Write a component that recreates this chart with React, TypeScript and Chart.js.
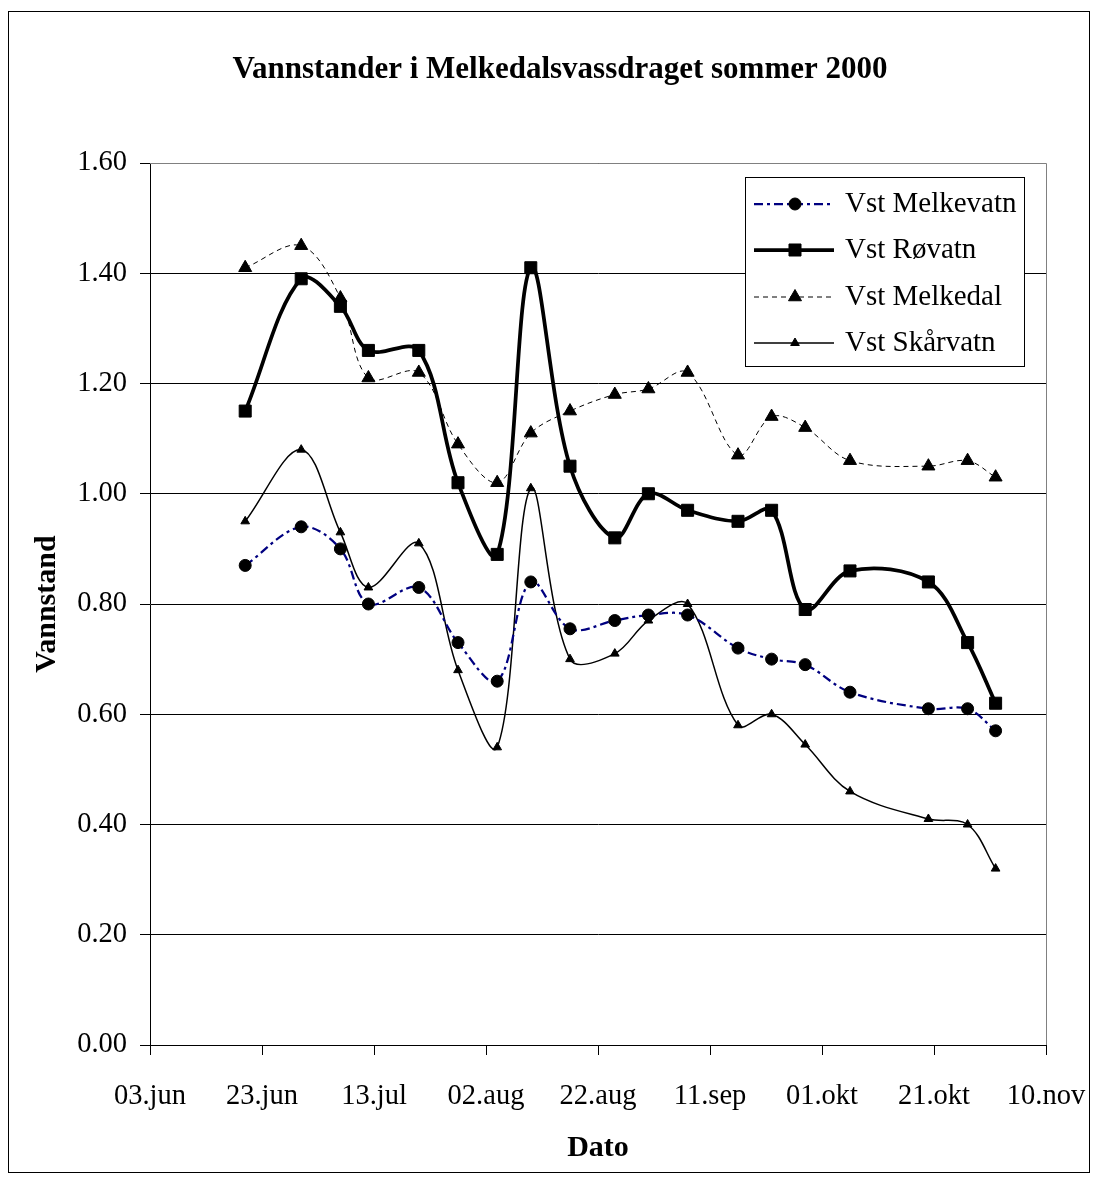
import React, { useEffect, useRef } from "react";
import { Chart, registerables } from "chart.js";

Chart.register(...registerables);

const TITLE = "Vannstander i Melkedalsvassdraget sommer 2000";
const X_TITLE = "Dato";
const Y_TITLE = "Vannstand";
const START_DATE = "2000-06-03";

const xTickLabels = ["03.jun", "23.jun", "13.jul", "02.aug", "22.aug", "11.sep", "01.okt", "21.okt", "10.nov"];

const dates = [
  "2000-06-20", "2000-06-30", "2000-07-07", "2000-07-12", "2000-07-21",
  "2000-07-28", "2000-08-04", "2000-08-10", "2000-08-17", "2000-08-25",
  "2000-08-31", "2000-09-07", "2000-09-16", "2000-09-22", "2000-09-28",
  "2000-10-06", "2000-10-20", "2000-10-27", "2000-11-01",
];

const seriesNames = ["Vst Melkevatn", "Vst Røvatn", "Vst Melkedal", "Vst Skårvatn"];

const melkevatn = [0.87, 0.94, 0.9, 0.8, 0.83, 0.73, 0.66, 0.84, 0.755, 0.77, 0.78, 0.78, 0.72, 0.7, 0.69, 0.64, 0.61, 0.61, 0.57];
const rovatn = [1.15, 1.39, 1.34, 1.26, 1.26, 1.02, 0.89, 1.41, 1.05, 0.92, 1.0, 0.97, 0.95, 0.97, 0.79, 0.86, 0.84, 0.73, 0.62];
const melkedal = [1.41, 1.45, 1.355, 1.21, 1.22, 1.09, 1.02, 1.11, 1.15, 1.18, 1.19, 1.22, 1.07, 1.14, 1.12, 1.06, 1.05, 1.06, 1.03];
const skarvatn = [0.95, 1.08, 0.93, 0.83, 0.91, 0.68, 0.54, 1.01, 0.7, 0.71, 0.77, 0.8, 0.58, 0.6, 0.545, 0.46, 0.41, 0.4, 0.32];

const FONT = "'Liberation Serif', 'Times New Roman', serif";
const W = 1082;
const H = 1166;

const dayOf = (d: string) => Math.round((Date.parse(d) - Date.parse(START_DATE)) / 86400000);
const toPoints = (vals: number[]) => dates.map((d, i) => ({ x: dayOf(d), y: vals[i] }));

function drawMarker(ctx: CanvasRenderingContext2D, style: string, x: number, y: number, r: number) {
  ctx.beginPath();
  if (style === "circle") {
    ctx.arc(x, y, r, 0, Math.PI * 2);
  } else if (style === "rect") {
    const s = r * Math.SQRT1_2;
    ctx.rect(x - s, y - s, 2 * s, 2 * s);
  } else if (style === "triangle") {
    let a = 0;
    ctx.moveTo(x + Math.sin(a) * r, y - Math.cos(a) * r);
    a += (2 * Math.PI) / 3;
    ctx.lineTo(x + Math.sin(a) * r, y - Math.cos(a) * r);
    a += (2 * Math.PI) / 3;
    ctx.lineTo(x + Math.sin(a) * r, y - Math.cos(a) * r);
    ctx.closePath();
  }
  ctx.fill();
  ctx.stroke();
}

const decorPlugin = {
  id: "decor",
  beforeDraw(chart: any) {
    const ctx = chart.ctx as CanvasRenderingContext2D;
    ctx.save();
    ctx.fillStyle = "#ffffff";
    ctx.fillRect(0, 0, chart.width, chart.height);
    ctx.strokeStyle = "#000000";
    ctx.lineWidth = 1;
    ctx.strokeRect(0.5, 3.5, W - 1, H - 5);
    ctx.fillStyle = "#000000";
    ctx.font = `bold 31px ${FONT}`;
    ctx.textAlign = "center";
    ctx.textBaseline = "alphabetic";
    ctx.fillText(TITLE, 552, 70);
    ctx.restore();
  },
  beforeDatasetsDraw(chart: any) {
    const ctx = chart.ctx as CanvasRenderingContext2D;
    const { left, right, top, bottom } = chart.chartArea;
    ctx.save();
    ctx.strokeStyle = "#808080";
    ctx.lineWidth = 1;
    ctx.beginPath();
    ctx.moveTo(left, Math.round(top) + 0.5);
    ctx.lineTo(Math.round(right) + 0.5, Math.round(top) + 0.5);
    ctx.lineTo(Math.round(right) + 0.5, bottom);
    ctx.stroke();
    ctx.restore();
  },
  afterDraw(chart: any) {
    const ctx = chart.ctx as CanvasRenderingContext2D;
    const bx = 737, by = 169, bw = 279, bh = 189;
    ctx.save();
    ctx.fillStyle = "#ffffff";
    ctx.fillRect(bx, by, bw, bh);
    ctx.strokeStyle = "#000000";
    ctx.lineWidth = 1;
    ctx.strokeRect(bx + 0.5, by + 0.5, bw, bh);
    const rows = [196, 242, 289, 335];
    chart.data.datasets.forEach((ds: any, i: number) => {
      const y = rows[i];
      ctx.save();
      ctx.strokeStyle = ds.borderColor;
      ctx.lineWidth = ds.borderWidth;
      ctx.setLineDash(ds.borderDash || []);
      ctx.beginPath();
      ctx.moveTo(746, y);
      ctx.lineTo(826, y);
      ctx.stroke();
      ctx.setLineDash([]);
      ctx.fillStyle = ds.pointBackgroundColor;
      ctx.strokeStyle = ds.pointBorderColor;
      ctx.lineWidth = 1;
      drawMarker(ctx, ds.pointStyle, 787, y, ds.pointRadius);
      ctx.restore();
      ctx.fillStyle = "#000000";
      ctx.font = `29px ${FONT}`;
      ctx.textAlign = "left";
      ctx.textBaseline = "middle";
      ctx.fillText(ds.label, 837, y);
    });
    ctx.restore();
  },
};

export default function App() {
  const ref = useRef<HTMLCanvasElement | null>(null);

  useEffect(() => {
    if (!ref.current) return;
    const chart = new Chart(ref.current, {
      type: "line",
      data: {
        datasets: [
          {
            label: seriesNames[0],
            data: toPoints(melkevatn),
            borderColor: "#000080",
            borderWidth: 2.25,
            borderDash: [9, 4, 3, 4],
            pointStyle: "circle",
            pointRadius: 6,
            pointBackgroundColor: "#000000",
            pointBorderColor: "#000000",
            pointBorderWidth: 1,
            tension: 0.35,
            fill: false,
          },
          {
            label: seriesNames[1],
            data: toPoints(rovatn),
            borderColor: "#000000",
            borderWidth: 3.75,
            pointStyle: "rect",
            pointRadius: 8.5,
            pointBackgroundColor: "#000000",
            pointBorderColor: "#000000",
            pointBorderWidth: 1,
            tension: 0.35,
            fill: false,
          },
          {
            label: seriesNames[2],
            data: toPoints(melkedal),
            borderColor: "#000000",
            borderWidth: 1,
            borderDash: [5, 4],
            pointStyle: "triangle",
            pointRadius: 7.5,
            pointBackgroundColor: "#000000",
            pointBorderColor: "#000000",
            pointBorderWidth: 1,
            tension: 0.35,
            fill: false,
          },
          {
            label: seriesNames[3],
            data: toPoints(skarvatn),
            borderColor: "#000000",
            borderWidth: 1.5,
            pointStyle: "triangle",
            pointRadius: 5,
            pointBackgroundColor: "#000000",
            pointBorderColor: "#000000",
            pointBorderWidth: 1,
            tension: 0.35,
            fill: false,
          },
        ],
      } as any,
      options: {
        responsive: false,
        animation: false,
        devicePixelRatio: 1,
        layout: { padding: { top: 155, right: 44, left: 0, bottom: 0 } },
        plugins: {
          legend: { display: false },
          tooltip: { enabled: false },
          title: { display: false },
        },
        scales: {
          x: {
            type: "linear",
            min: 0,
            max: 160,
            afterFit: (s: any) => {
              s.height = 129;
              s.paddingLeft = 0;
              s.paddingRight = 0;
            },
            ticks: {
              stepSize: 20,
              autoSkip: false,
              maxRotation: 0,
              color: "#000000",
              padding: 24,
              font: { family: FONT, size: 28.5 },
              callback: (v: any) => xTickLabels[Math.round(Number(v) / 20)] ?? "",
            },
            grid: {
              drawOnChartArea: false,
              drawTicks: true,
              tickLength: 10,
              tickColor: "#000000",
              color: "#000000",
            },
            border: { color: "#000000", width: 1 },
            title: {
              display: true,
              text: X_TITLE,
              color: "#000000",
              font: { family: FONT, size: 30, weight: "bold" },
              padding: { top: 0, bottom: 8 },
            },
          },
          y: {
            type: "linear",
            min: 0,
            max: 1.6,
            afterFit: (s: any) => {
              s.width = 142;
              s.paddingTop = 0;
              s.paddingBottom = 0;
            },
            ticks: {
              stepSize: 0.2,
              color: "#000000",
              padding: 13,
              font: { family: FONT, size: 28.5 },
              callback: (v: any) => Number(v).toFixed(2),
            },
            grid: {
              color: "#000000",
              lineWidth: 1,
              drawTicks: true,
              tickLength: 10,
              tickColor: "#000000",
            },
            border: { color: "#000000", width: 1 },
            title: {
              display: true,
              text: Y_TITLE,
              color: "#000000",
              font: { family: FONT, size: 30, weight: "bold" },
              padding: { top: 21, bottom: 0 },
            },
          },
        },
      } as any,
      plugins: [decorPlugin],
    });
    return () => chart.destroy();
  }, []);

  return (
    <div style={{ width: W, height: H }}>
      <canvas ref={ref} width={W} height={H} style={{ display: "block", width: W, height: H }} />
    </div>
  );
}
